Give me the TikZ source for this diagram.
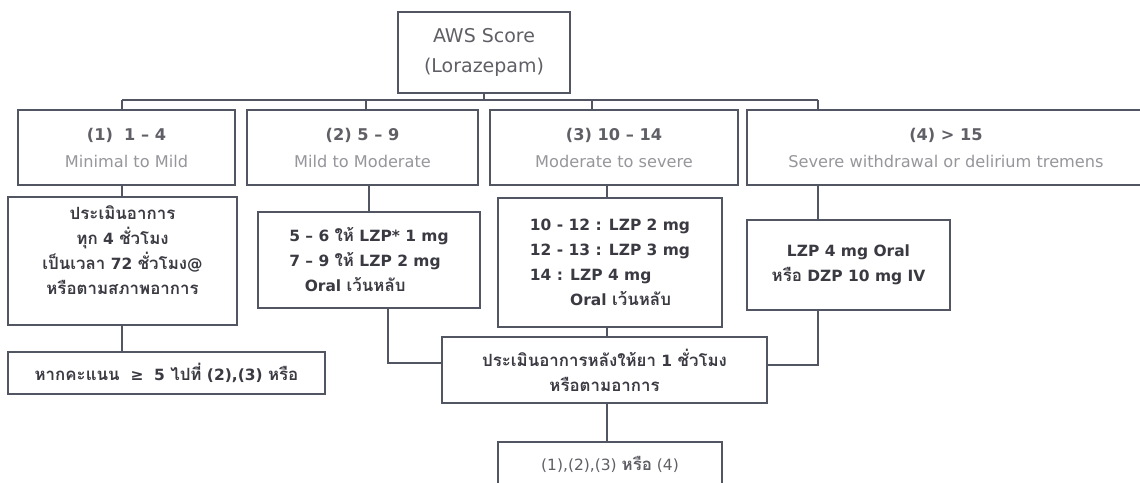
\documentclass[tikz,border=0pt]{standalone}
\usepackage{fontspec}
\setmainfont{DejaVu Sans}
\newfontfamily\thaifont[Script=Thai]{Loma}
\usepackage{tikz}
\usetikzlibrary{positioning,calc}
\definecolor{awsline}{RGB}{82,86,98}
\definecolor{awstext}{RGB}{58,58,66}
\definecolor{awsgray}{RGB}{150,150,155}
\definecolor{awsmid}{RGB}{95,95,102}
\newcommand{\thtxt}[1]{{\thaifont\fontsize{12}{17.8}\selectfont #1}}
\tikzstyle{line} = [line width=1.3pt, color=awsline]
\tikzstyle{box} = [rectangle, draw=awsline, line width=1.3pt, fill=white, inner sep=0pt, text centered]
\tikzstyle{grade} = [box, minimum height=1.875cm, align=center, font=\fontsize{11.5}{19.2}\selectfont]
\tikzstyle{care} = [box, text=awstext, font=\fontsize{11}{17.8}\selectfont\bfseries]

\begin{document}
\begin{tikzpicture}[x=0.025cm, y=-0.025cm]
    \useasboundingbox (0,0) rectangle (1140,482);

    % Score
    \node[box, minimum width=4.3cm, minimum height=2.025cm, align=center, text=awsmid, font=\fontsize{13.5}{21.3}\selectfont] (aws) at (484,52.5) {AWS Score\\(Lorazepam)};

    % Branch points
    \coordinate (t1) at (122,100);
    \coordinate (t2) at (366,100);
    \coordinate (t3) at (592,100);
    \coordinate (t4) at (818,100);

    % Grades
    \node[grade, minimum width=5.425cm] (g1) at (126.5,147.5) {{\bfseries\color{awsmid}(1)\ \ 1 – 4}\\{\color{awsgray}Minimal to Mild}};
    \node[grade, minimum width=5.775cm] (g2) at (362.5,147.5) {{\bfseries\color{awsmid}(2) 5 – 9}\\{\color{awsgray}Mild to Moderate}};
    \node[grade, minimum width=6.2cm] (g3) at (614,147.5) {{\bfseries\color{awsmid}(3) 10 – 14}\\{\color{awsgray}Moderate to severe}};
    \node[grade, minimum width=9.95cm] (g4) at (946,147.5) {{\bfseries\color{awsmid}(4) > 15}\\{\color{awsgray}Severe withdrawal or delirium tremens}};

    % Care per grade
    \node[care, minimum width=5.725cm, minimum height=3.2cm] (c1) at (122.5,261) {};
    \node[care, draw=none, fill=none, align=center] (c1txt) at (122.5,250) {\thtxt{ประเมินอาการ}\\\thtxt{ทุก} 4 \thtxt{ชั่วโมง}\\\thtxt{เป็นเวลา} 72 \thtxt{ชั่วโมง}@\\\thtxt{หรือตามสภาพอาการ}};
    \node[care, minimum width=5.55cm, minimum height=2.4cm, align=left] (c2) at (369,260) {5 – 6 \thtxt{ให้} LZP* 1 mg\\7 – 9 \thtxt{ให้} LZP 2 mg\\\hspace*{1em}Oral \thtxt{เว้นหลับ}};
    \node[care, minimum width=5.6cm, minimum height=3.225cm, align=left] (c3) at (610,262.5) {10 - 12 : LZP 2 mg\\12 - 13 : LZP 3 mg\\14 : LZP 4 mg\\\hspace*{2.6em}Oral \thtxt{เว้นหลับ}};
    \node[care, minimum width=5.075cm, minimum height=2.25cm, align=center] (c4) at (848.5,265) {LZP 4 mg Oral\\\thtxt{หรือ} DZP 10 mg IV};

    % Follow up
    \node[care, minimum width=7.925cm, minimum height=1.05cm] (next1) at (166.5,373) {\thtxt{หากคะแนน} \ ≥ \ 5 \thtxt{ไปที่} (2),(3) \thtxt{หรือ}};
    \node[care, minimum width=8.125cm, minimum height=1.65cm, align=center] (review) at (604.5,370) {\thtxt{ประเมินอาการหลังให้ยา} 1 \thtxt{ชั่วโมง}\\\thtxt{หรือตามอาการ}};
    \node[care, minimum width=5.6cm, minimum height=1.1cm, font=\fontsize{11}{17.8}\selectfont, text=awsmid] (final) at (610,464) {(1),(2),(3) {\bfseries\thtxt{หรือ}} (4)};

    % Joints
    \coordinate (j2) at (388,363);
    \coordinate (j4) at (818,365);

    % Arrows
    \draw[line] (aws.south) -- (aws.south |- t1);
    \draw[line] (t1) -- (t4);
    \foreach \t/\g in {t1/g1,t2/g2,t3/g3,t4/g4}
        \draw[line] (\t) -- (\t |- \g.north);
    \draw[line] (t1 |- g1.south) -- (t1 |- c1.north);
    \draw[line] (c2.north) -- (c2.north |- g2.south);
    \draw[line] (607,185) coordinate (s3) -- (s3 |- c3.north);
    \draw[line] (t4 |- g4.south) -- (t4 |- c4.north);
    \draw[line] (t1 |- c1.south) -- (t1 |- next1.north);
    \draw[line] (j2 |- c2.south) -- (j2) -- (j2 -| review.west);
    \draw[line] (j4 |- c4.south) -- (j4) -- (j4 -| review.east);
    \draw[line] (s3 |- c3.south) -- (s3 |- review.north);
    \draw[line] (s3 |- review.south) -- (s3 |- final.north);
\end{tikzpicture}
\end{document}
